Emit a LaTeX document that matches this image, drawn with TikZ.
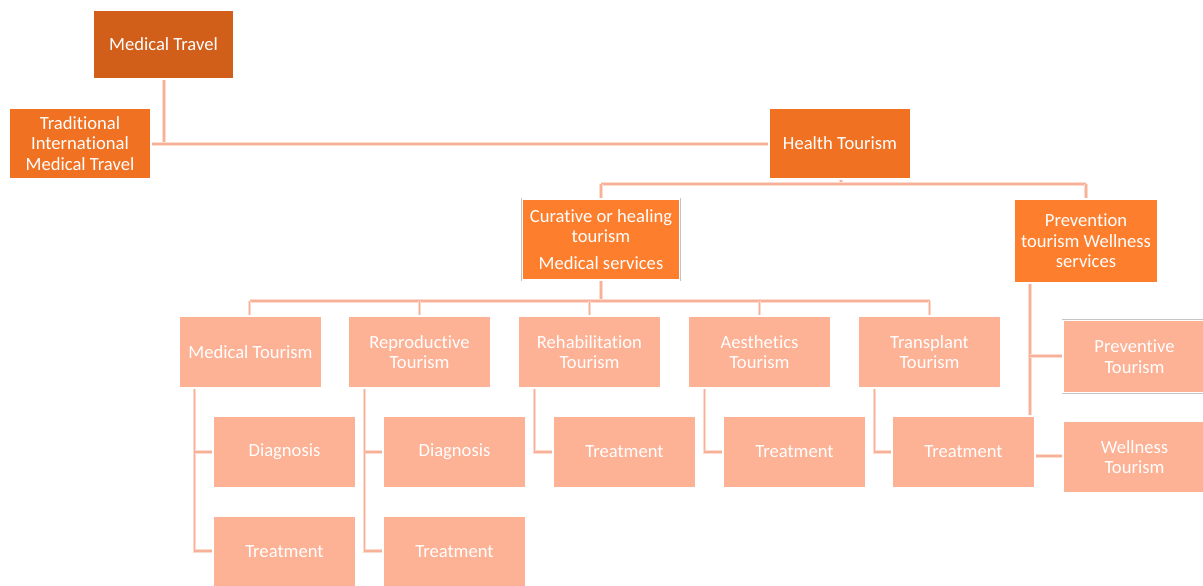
\documentclass[tikz,border=0pt]{standalone}
\usepackage{fontspec}
\setmainfont{Carlito}[Ligatures=NoCommon]
\definecolor{topfill}{HTML}{D15F1A}
\definecolor{midfill}{HTML}{F07122}
\definecolor{subfill}{HTML}{FD7F2E}
\definecolor{leaffill}{HTML}{FDB195}
\definecolor{edgegray}{HTML}{C4C4C4}
\definecolor{linkc}{HTML}{F8B199}
\definecolor{linkl}{HTML}{FCDACE}
\tikzset{
  box/.style={rectangle, minimum width=142pt, minimum height=71pt, inner sep=2pt,
    text=white, align=center, font=\fontsize{18.6}{20.5}\selectfont,
    draw=white, line width=1.6pt, preaction={draw=edgegray, line width=2.8pt}},
  toplevel/.style={box, fill=topfill, minimum width=141pt, minimum height=69pt},
  midlevel/.style={box, fill=midfill},
  sublevel/.style={box, fill=subfill},
  leaf/.style={box, fill=leaffill, minimum width=143pt, minimum height=72pt},
  link/.style={draw=linkl, double=linkc, double distance=1.4pt, line width=0.9pt},
}
\begin{document}
\begin{tikzpicture}[x=1pt, y=-1pt]
\useasboundingbox (0,0) rectangle (1203,586);
\clip (0,0) rectangle (1203,586);

% connector junctions
\coordinate (j0) at (164,144);
\coordinate (j1) at (841,184);
\coordinate (j2) at (601,301);

% connectors first, boxes are drawn over them
\draw[link] (164,79) -- (j0);
\draw[link] (150,144) -- (770,144);
\draw[link] (841,179) -- (j1);
\draw[link] (601,184) -- (1086,184);
\draw[link] (601,184) -- (601,199);
\draw[link] (1086,184) -- (1086,199);
\draw[link] (601,280) -- (j2);
\draw[link] (249.5,301) -- (929.5,301);
\foreach \cx in {249.5,419.5,589.5,759.5,929.5}
  \draw[link] (\cx,301) -- (\cx,316);
% branches below Medical Tourism and Reproductive Tourism
\foreach \cx in {249.5,419.5}{
  \draw[link] (\cx-55,388) -- (\cx-55,551) -- (\cx-35,551);
  \draw[link] (\cx-55,452) -- (\cx-35,452);
}
% single branches below the other level-3 nodes
\foreach \cx in {589.5,759.5,929.5}
  \draw[link] (\cx-55,388) -- (\cx-55,452) -- (\cx-35,452);
% branches below Prevention tourism
\draw[link] (1030,283) -- (1030,456) -- (1063,456);
\draw[link] (1030,356) -- (1063,356);

% nodes
\node[toplevel] (mt) at (163.5,44.5) {Medical Travel};
\node[midlevel] (trad) at (80,143.5) {Traditional\\International\\Medical Travel};
\node[midlevel] (ht) at (840,143.5) {Health Tourism};
\node[sublevel, minimum width=157pt, minimum height=81pt] (cur) at (601,239.5)
  {Curative or healing\\tourism\\[6pt]Medical services};
\node[sublevel, minimum width=144pt, minimum height=84pt] (prev) at (1086,241)
  {Prevention\\tourism Wellness\\services};

\node[leaf] (medt) at (250.5,352) {Medical Tourism};
\node[leaf] (rept) at (419.5,352) {Reproductive\\Tourism};
\node[leaf] (reht) at (589.5,352) {Rehabilitation\\Tourism};
\node[leaf] (aest) at (759.5,352) {Aesthetics\\Tourism};
\node[leaf] (trat) at (929.5,352) {Transplant\\Tourism};

\node[leaf] (md) at (284.5,452) {Diagnosis};
\node[leaf] (mtr) at (284.5,552) {Treatment};
\node[leaf] (rd) at (454.5,452) {Diagnosis};
\node[leaf] (rtr) at (454.5,552) {Treatment};
\node[leaf] (hrt) at (624.5,452) {Treatment};
\node[leaf] (atr) at (794.5,452) {Treatment};
\node[leaf] (ttr) at (963.5,452) {Treatment};

\node[leaf] (pt) at (1134.5,356.5) {Preventive\\Tourism};
\node[leaf] (wt) at (1134.5,457) {Wellness\\Tourism};
\end{tikzpicture}
\end{document}
